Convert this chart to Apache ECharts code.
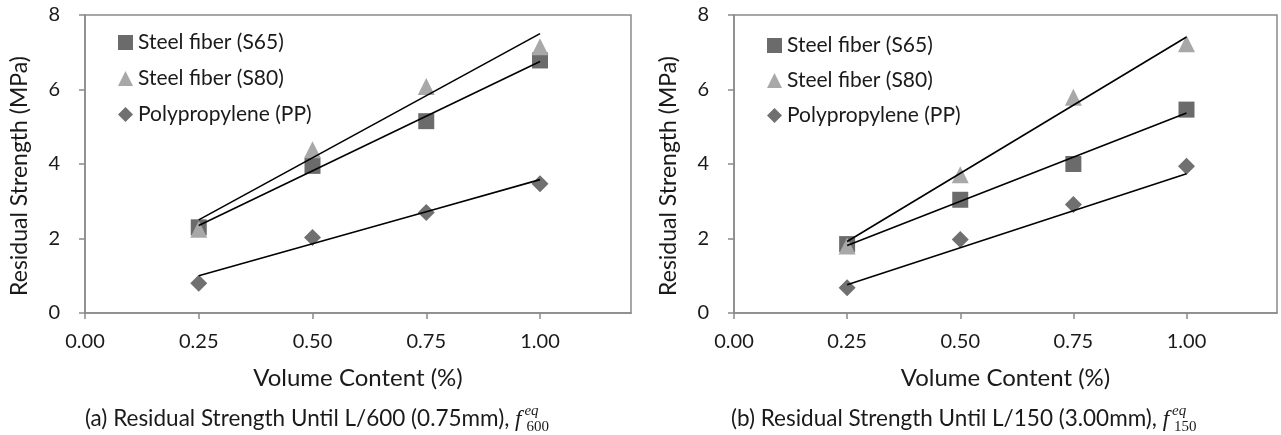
<!DOCTYPE html>
<html>
<head>
<meta charset="utf-8">
<script src="https://cdn.jsdelivr.net/npm/echarts@6/dist/echarts.min.js"></script>
<style>
  html, body { margin: 0; padding: 0; background: #ffffff; }
  #chart { width: 1281px; height: 435px; }
</style>
</head>
<body>
<div id="chart"></div>
<script>
// Volume content (%) of fibers
const contents = [0.25, 0.5, 0.75, 1.0];
const volumeTicks = [0, 0.25, 0.5, 0.75, 1.0];
const trendEnds = [0.25, 1.0];

const seriesNames = ['Steel fiber (S65)', 'Steel fiber (S80)', 'Polypropylene (PP)'];

// (a) residual strength until L/600, MPa
const s65A = [2.30, 3.95, 5.15, 6.78];
const s80A = [2.25, 4.38, 6.08, 7.15];
const ppA  = [0.80, 2.03, 2.70, 3.47];
const s65TrendA = [2.35, 6.75];
const s80TrendA = [2.50, 7.50];
const ppTrendA  = [1.00, 1.86, 2.72, 3.58];

// (b) residual strength until L/150, MPa
const s65B = [1.85, 3.04, 4.00, 5.46];
const s80B = [1.80, 3.71, 5.79, 7.23];
const ppB  = [0.68, 1.97, 2.91, 3.94];
const s65TrendB = [1.81, 5.37];
const s80TrendB = [1.92, 7.41];
const ppTrendB  = [0.76, 3.74];

const captionA = '(a) Residual Strength Until L/600 (0.75mm), ';
const captionB = '(b) Residual Strength Until L/150 (3.00mm), ';

const AXIS_GRAY = '#8a8a8a';
const TEXT = '#1a1a1a';
const FONT = 'Lato';

const pairs = (xs, ys) => xs.map((x, k) => [x, ys[k]]);

const panels = [
  { left: 85, width: 546, legendLeft: 118, legendTop: 32, legendGap: 15,
    pts: [s65A, s80A, ppA],
    trends: [pairs(trendEnds, s65TrendA), pairs(trendEnds, s80TrendA), pairs(contents, ppTrendA)] },
  { left: 734, width: 543, legendLeft: 767, legendTop: 35, legendGap: 14,
    pts: [s65B, s80B, ppB],
    trends: [pairs(trendEnds, s65TrendB), pairs(trendEnds, s80TrendB), pairs(trendEnds, ppTrendB)] }
];

const markers = [
  { symbol: 'rect', size: 16, color: '#6b6b6b' },
  { symbol: 'triangle', size: 17, color: '#a8a8a8' },
  { symbol: 'diamond', size: 17, color: '#707070' }
];

const grid = [], xAxis = [], yAxis = [], series = [], legend = [];

panels.forEach((p, i) => {
  grid.push({
    left: p.left, top: 15, width: p.width, height: 298,
    show: true, borderColor: AXIS_GRAY, borderWidth: 1.5
  });
  xAxis.push({
    type: 'value', gridIndex: i, min: 0, max: 1.2, interval: 0.25,
    name: 'Volume Content (%)', nameLocation: 'middle', nameGap: 53,
    nameTextStyle: { fontFamily: FONT, fontSize: 24, color: TEXT },
    axisLine: { show: true, lineStyle: { color: AXIS_GRAY, width: 1.5 } },
    axisTick: { show: true, length: 6, customValues: volumeTicks, lineStyle: { color: AXIS_GRAY, width: 1.5 } },
    axisLabel: { customValues: volumeTicks, margin: 19, fontFamily: FONT, fontSize: 20, color: TEXT,
                 formatter: v => v.toFixed(2) },
    splitLine: { show: false }
  });
  yAxis.push({
    type: 'value', gridIndex: i, min: 0, max: 8, interval: 2,
    name: 'Residual Strength (MPa)', nameLocation: 'middle', nameGap: 54,
    nameTextStyle: { fontFamily: FONT, fontSize: 23, color: TEXT, padding: [0, 24, 0, 0] },
    axisLine: { show: true, lineStyle: { color: AXIS_GRAY, width: 1.5 } },
    axisTick: { show: true, length: 6, lineStyle: { color: AXIS_GRAY, width: 1.5 } },
    axisLabel: { margin: 25, fontFamily: FONT, fontSize: 20, color: TEXT },
    splitLine: { show: false }
  });
  p.pts.forEach((vals, k) => {
    series.push({
      name: seriesNames[k], type: 'scatter', xAxisIndex: i, yAxisIndex: i,
      data: pairs(contents, vals),
      symbol: markers[k].symbol, symbolSize: markers[k].size,
      itemStyle: { color: markers[k].color, opacity: 1 },
      z: 2 + k
    });
  });
  p.trends.forEach((pts, k) => {
    series.push({
      name: seriesNames[k] + ' trend', type: 'line', xAxisIndex: i, yAxisIndex: i,
      data: pts, symbol: 'none', silent: true,
      lineStyle: { color: '#000000', width: 1.6 },
      z: 10
    });
  });
  legend.push({
    data: seriesNames, orient: 'vertical', left: p.legendLeft, top: p.legendTop,
    padding: 0, itemWidth: 15, itemHeight: 15, itemGap: p.legendGap,
    textStyle: { fontFamily: FONT, fontSize: 21, color: TEXT, lineHeight: 21 },
    selectedMode: false
  });
});

// Captions with the f^eq_n symbol set in a serif italic
const measure = document.createElement('canvas').getContext('2d');
function textWidth(font, t) { measure.font = font; return measure.measureText(t).width; }

const CAP_SIZE = 22.5;
function caption(cx, main, sub) {
  const wMain = textWidth(CAP_SIZE + 'px ' + FONT, main);
  const wF = textWidth('italic 23px "Liberation Serif"', 'f');
  const wSup = textWidth('italic 15px "Liberation Serif"', 'eq');
  const wSub = textWidth('15px "Liberation Serif"', sub);
  const total = wMain + wF + 3 + Math.max(wSup + 1, wSub + 4);
  const x0 = Math.round(cx - total / 2);
  const xf = x0 + wMain;
  return [
    { type: 'text', x: x0, y: 419, silent: true,
      style: { text: main, fontFamily: FONT, fontSize: CAP_SIZE, fill: TEXT, verticalAlign: 'middle' } },
    { type: 'text', x: xf, y: 420, silent: true,
      style: { text: 'f', fontFamily: 'Liberation Serif', fontStyle: 'italic', fontSize: 23, fill: TEXT, verticalAlign: 'middle' } },
    { type: 'text', x: xf + wF + 3, y: 411, silent: true,
      style: { text: 'eq', fontFamily: 'Liberation Serif', fontStyle: 'italic', fontSize: 15, fill: TEXT, verticalAlign: 'middle' } },
    { type: 'text', x: xf + wF + 5, y: 427, silent: true,
      style: { text: sub, fontFamily: 'Liberation Serif', fontSize: 15, fill: TEXT, verticalAlign: 'middle' } }
  ];
}

const chart = echarts.init(document.getElementById('chart'), null, { renderer: 'canvas' });
chart.setOption({
  animation: false,
  backgroundColor: '#ffffff',
  grid, xAxis, yAxis, series, legend,
  graphic: [...caption(318, captionA, '600'), ...caption(965, captionB, '150')]
});
</script>
</body>
</html>
